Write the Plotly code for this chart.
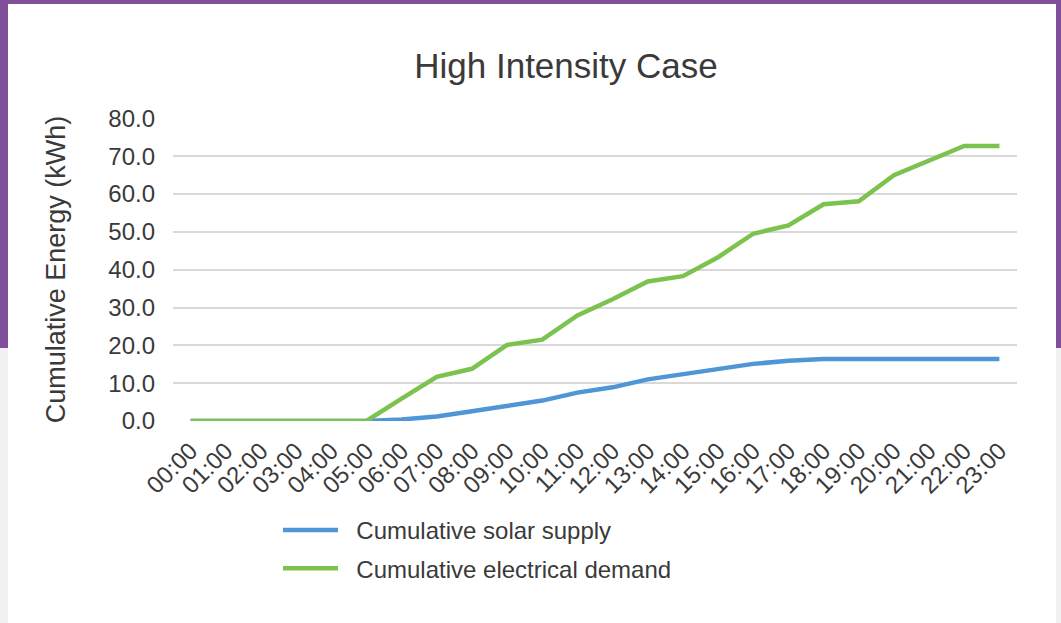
import plotly.graph_objects as go

# Hourly time labels
hours = [f"{h:02d}:00" for h in range(24)]

# Cumulative energy (kWh) per hour
solar_supply = [0.0, 0.0, 0.0, 0.0, 0.0, 0.0, 0.4, 1.2, 2.6, 4.1, 5.4, 7.5,
                8.9, 11.0, 12.3, 13.7, 15.1, 15.9, 16.4, 16.4, 16.4, 16.4, 16.4, 16.4]
electrical_demand = [0.0, 0.0, 0.0, 0.0, 0.0, 0.0, 5.9, 11.7, 13.8, 20.1, 21.5, 27.9,
                     32.2, 36.9, 38.3, 43.3, 49.5, 51.7, 57.3, 58.1, 65.0, 68.7, 72.7, 72.7]

y_ticks = [0, 10, 20, 30, 40, 50, 60, 70, 80]

W, H = 1061, 623
ML, MR, MT, MB = 173, 44, 118, 202
PW, PH = W - ML - MR, H - MT - MB

def px_x(px):
    return (px - ML) / PW

def px_y(py):
    return (H - MB - py) / PH

PURPLE = "#7f4f9c"
TEXT = "#3a3a3a"
FONT = "Liberation Sans, Arial, sans-serif"
GAP = "\u00a0\u00a0"

fig = go.Figure()
fig.add_trace(go.Scatter(x=hours, y=solar_supply, mode="lines",
                         name=GAP + "Cumulative solar supply", legendgroup="solar",
                         line=dict(color="#4e96d6", width=4.5)))
fig.add_trace(go.Scatter(x=hours, y=electrical_demand, mode="lines",
                         name=GAP + "Cumulative electrical demand", legendgroup="demand",
                         line=dict(color="#7cc24e", width=4.5)))

# Card background over the purple frame
shapes = [
    dict(type="rect", xref="paper", yref="paper", layer="below",
         x0=px_x(8), x1=px_x(1056), y0=px_y(H + 5), y1=px_y(4),
         fillcolor="white", line=dict(width=0)),
    dict(type="rect", xref="paper", yref="paper", layer="below",
         x0=px_x(-2), x1=px_x(8), y0=px_y(H + 5), y1=px_y(348),
         fillcolor="#f1f1f1", line=dict(width=0)),
    dict(type="rect", xref="paper", yref="paper", layer="below",
         x0=px_x(1056), x1=px_x(W + 2), y0=px_y(H + 5), y1=px_y(348),
         fillcolor="#f1f1f1", line=dict(width=0)),
]

fig.update_layout(
    width=W, height=H,
    margin=dict(l=ML, r=MR, t=MT, b=MB, pad=0),
    paper_bgcolor=PURPLE,
    plot_bgcolor="rgba(0,0,0,0)",
    font=dict(family=FONT, color=TEXT, size=24),
    shapes=shapes,
    title=dict(text="High Intensity Case", x=566 / W, xanchor="center",
               xref="container", yref="container", y=1 - 66 / H, yanchor="middle",
               font=dict(size=35, color=TEXT, family=FONT)),
    xaxis=dict(type="category", range=[-0.5, 23.5], showgrid=False,
               zeroline=False, showline=False, ticks="", tickangle=-45,
               tickfont=dict(size=24, color=TEXT), ticklabelstandoff=10),
    yaxis=dict(range=[0, 80.1], tickvals=y_ticks,
               ticktext=[f"{v:.1f}" for v in y_ticks],
               showgrid=True, gridcolor="#d9d9d9", gridwidth=1.5,
               zeroline=False, showline=False, ticks="",
               tickfont=dict(size=24, color=TEXT), ticklabelstandoff=17,
               title=dict(text="Cumulative Energy (kWh)", standoff=34,
                          font=dict(size=27, color=TEXT))),
    legend=dict(orientation="v", x=px_x(278), xanchor="left",
                y=px_y(508), yanchor="top", bgcolor="rgba(0,0,0,0)",
                font=dict(size=24, color=TEXT), traceorder="grouped",
                tracegroupgap=4, itemwidth=55),
    showlegend=True,
)

fig.write_html("out.html")
